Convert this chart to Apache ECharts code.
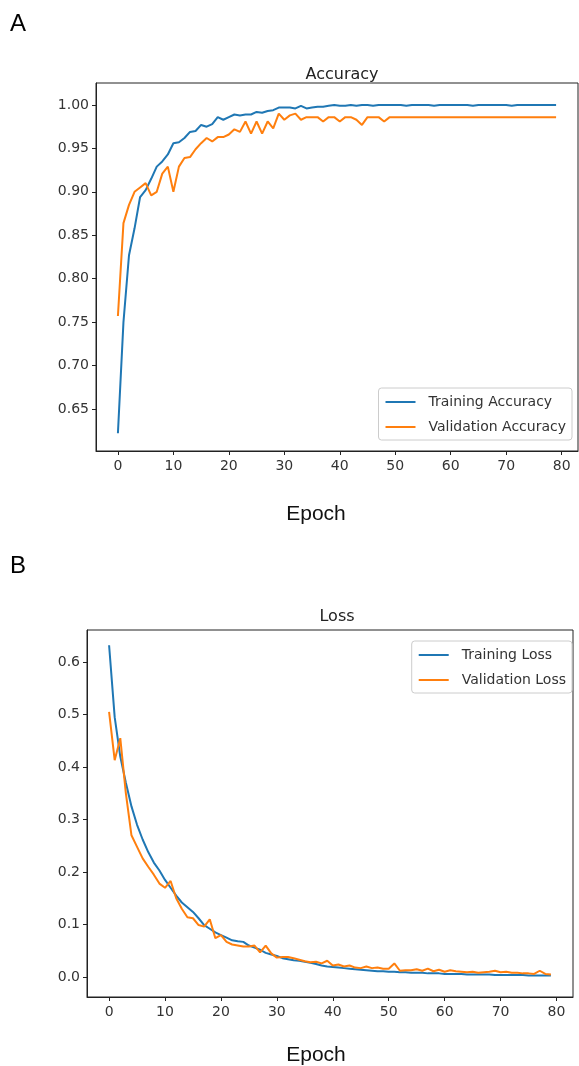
<!DOCTYPE html>
<html>
<head>
<meta charset="utf-8">
<script src="https://cdn.jsdelivr.net/npm/echarts@6/dist/echarts.min.js"></script>
<style>
html,body{margin:0;padding:0;background:#fff;}
#c{width:579px;height:1066px;}
</style>
</head>
<body>
<div id="c"></div>
<script>
const epochs = Array.from({length: 80}, (_, i) => i);
const xTicks = [0, 10, 20, 30, 40, 50, 60, 70, 80];
const accTicks = [0.65, 0.70, 0.75, 0.80, 0.85, 0.90, 0.95, 1.00];
const lossTicks = [0.0, 0.1, 0.2, 0.3, 0.4, 0.5, 0.6];

const trainAcc = [
  0.622, 0.750, 0.827, 0.858, 0.894, 0.902, 0.915, 0.929, 0.935, 0.943,
  0.956, 0.957, 0.962, 0.969, 0.970, 0.977, 0.975, 0.978, 0.986, 0.983,
  0.986, 0.989, 0.988, 0.989, 0.989, 0.992, 0.991, 0.993, 0.994, 0.997,
  0.997, 0.997, 0.996, 0.999, 0.996, 0.997, 0.998, 0.998, 0.999, 1.000,
  0.999, 0.999, 1.000, 0.999, 1.000, 1.000, 0.999, 1.000, 1.000, 1.000,
  1.000, 1.000, 0.999, 1.000, 1.000, 1.000, 1.000, 0.999, 1.000, 1.000,
  1.000, 1.000, 1.000, 1.000, 0.999, 1.000, 1.000, 1.000, 1.000, 1.000,
  1.000, 0.999, 1.000, 1.000, 1.000, 1.000, 1.000, 1.000, 1.000, 1.000
];
const valAcc = [
  0.757, 0.864, 0.885, 0.900, 0.905, 0.910, 0.896, 0.900, 0.921, 0.929,
  0.900, 0.929, 0.939, 0.940, 0.949, 0.956, 0.962, 0.958, 0.963, 0.963,
  0.966, 0.972, 0.969, 0.981, 0.967, 0.981, 0.967, 0.981, 0.973, 0.990,
  0.983, 0.988, 0.990, 0.983, 0.986, 0.986, 0.986, 0.981, 0.986, 0.986,
  0.981, 0.986, 0.986, 0.983, 0.977, 0.986, 0.986, 0.986, 0.981, 0.986,
  0.986, 0.986, 0.986, 0.986, 0.986, 0.986, 0.986, 0.986, 0.986, 0.986,
  0.986, 0.986, 0.986, 0.986, 0.986, 0.986, 0.986, 0.986, 0.986, 0.986,
  0.986, 0.986, 0.986, 0.986, 0.986, 0.986, 0.986, 0.986, 0.986, 0.986
];
const trainLoss = [
  0.632, 0.495, 0.420, 0.370, 0.325, 0.290, 0.262, 0.238, 0.218, 0.203,
  0.185, 0.170, 0.155, 0.142, 0.133, 0.124, 0.112, 0.099, 0.092, 0.085,
  0.080, 0.075, 0.070, 0.068, 0.067, 0.060, 0.056, 0.052, 0.046, 0.043,
  0.040, 0.036, 0.034, 0.032, 0.031, 0.029, 0.027, 0.025, 0.022, 0.020,
  0.019, 0.018, 0.017, 0.016, 0.015, 0.014, 0.013, 0.012, 0.011, 0.011,
  0.010, 0.010, 0.009, 0.009, 0.008, 0.008, 0.008, 0.007, 0.007, 0.007,
  0.006, 0.006, 0.006, 0.006, 0.005, 0.005, 0.005, 0.005, 0.005, 0.004,
  0.004, 0.004, 0.004, 0.004, 0.004, 0.003, 0.003, 0.003, 0.003, 0.003
];
const valLoss = [
  0.505, 0.413, 0.455, 0.350, 0.270, 0.248, 0.226, 0.210, 0.195, 0.178,
  0.170, 0.183, 0.150, 0.130, 0.114, 0.112, 0.099, 0.096, 0.110, 0.074,
  0.080, 0.067, 0.062, 0.060, 0.058, 0.058, 0.060, 0.047, 0.060, 0.045,
  0.037, 0.038, 0.038, 0.036, 0.033, 0.030, 0.028, 0.029, 0.026, 0.031,
  0.022, 0.024, 0.020, 0.022, 0.018, 0.017, 0.020, 0.017, 0.018, 0.016,
  0.016, 0.026, 0.012, 0.013, 0.013, 0.015, 0.012, 0.016, 0.011, 0.014,
  0.010, 0.013, 0.011, 0.010, 0.009, 0.010, 0.008, 0.009, 0.010, 0.012,
  0.009, 0.010, 0.008, 0.008, 0.007, 0.007, 0.006, 0.012, 0.006, 0.005
];

const BLUE = '#1f77b4', ORANGE = '#ff7f0e';
const tickFont = {fontFamily: 'DejaVu Sans', fontSize: 14, color: '#333'};
const axLine = {show: true, onZero: false, lineStyle: {color: '#222', width: 1}};

function xAxisCfg(gi) {
  return {
    type: 'value', gridIndex: gi, min: -3.95, max: 82.95,
    axisLine: axLine,
    axisTick: {show: true, length: 4, inside: false, customValues: xTicks, lineStyle: {color: '#222'}},
    axisLabel: {customValues: xTicks, margin: 8, ...tickFont},
    splitLine: {show: false}
  };
}
function legendCfg(names, top) {
  return {
    data: names, orient: 'vertical', right: 7, top: top,
    itemWidth: 30, itemHeight: 2, itemGap: 11, icon: 'rect',
    backgroundColor: '#fff', borderColor: '#ccc', borderWidth: 1, borderRadius: 3,
    padding: [7, 6, 6, 7],
    textStyle: {fontFamily: 'DejaVu Sans', fontSize: 14, color: '#333', padding: [0, 0, 0, 8]}
  };
}

const option = {
  animation: false,
  backgroundColor: '#fff',
  title: [
    {text: 'Accuracy', left: 337, top: 62, textAlign: 'center',
     textStyle: {fontFamily: 'DejaVu Sans', fontSize: 16, fontWeight: 'normal', color: '#222'}},
    {text: 'Loss', left: 332, top: 604, textAlign: 'center',
     textStyle: {fontFamily: 'DejaVu Sans', fontSize: 16, fontWeight: 'normal', color: '#222'}}
  ],
  graphic: [
    {type: 'text', left: 10, top: 12, style: {text: 'A', font: '24px "Liberation Sans"', fill: '#000'}},
    {type: 'text', left: 10, top: 554, style: {text: 'B', font: '24px "Liberation Sans"', fill: '#000'}},
    {type: 'text', x: 316, y: 514, style: {text: 'Epoch', font: '21px "Liberation Sans"', fill: '#111', align: 'center', verticalAlign: 'middle'}},
    {type: 'text', x: 316, y: 1055, style: {text: 'Epoch', font: '21px "Liberation Sans"', fill: '#111', align: 'center', verticalAlign: 'middle'}}
  ],
  grid: [
    {left: 96, top: 83, width: 482, height: 368, show: true, borderColor: '#222', borderWidth: 1},
    {left: 87, top: 630, width: 486, height: 367, show: true, borderColor: '#222', borderWidth: 1}
  ],
  legend: [
    legendCfg(['Training Accuracy', 'Validation Accuracy'], 388),
    legendCfg(['Training Loss', 'Validation Loss'], 641)
  ],
  xAxis: [xAxisCfg(0), xAxisCfg(1)],
  yAxis: [
    {type: 'value', gridIndex: 0, min: 0.6016, max: 1.0253,
     axisLine: axLine,
     axisTick: {show: true, length: 4, customValues: accTicks, lineStyle: {color: '#222'}},
     axisLabel: {customValues: accTicks, margin: 7, formatter: v => v.toFixed(2), ...tickFont},
     splitLine: {show: false}},
    {type: 'value', gridIndex: 1, min: -0.038, max: 0.661,
     axisLine: axLine,
     axisTick: {show: true, length: 4, customValues: lossTicks, lineStyle: {color: '#222'}},
     axisLabel: {customValues: lossTicks, margin: 7, formatter: v => v.toFixed(1), ...tickFont},
     splitLine: {show: false}}
  ],
  series: [
    {name: 'Training Accuracy', type: 'line', xAxisIndex: 0, yAxisIndex: 0, showSymbol: false,
     data: epochs.map((e, i) => [e, trainAcc[i]]), lineStyle: {color: BLUE, width: 2}, itemStyle: {color: BLUE}},
    {name: 'Validation Accuracy', type: 'line', xAxisIndex: 0, yAxisIndex: 0, showSymbol: false,
     data: epochs.map((e, i) => [e, valAcc[i]]), lineStyle: {color: ORANGE, width: 2}, itemStyle: {color: ORANGE}},
    {name: 'Training Loss', type: 'line', xAxisIndex: 1, yAxisIndex: 1, showSymbol: false,
     data: epochs.map((e, i) => [e, trainLoss[i]]), lineStyle: {color: BLUE, width: 2}, itemStyle: {color: BLUE}},
    {name: 'Validation Loss', type: 'line', xAxisIndex: 1, yAxisIndex: 1, showSymbol: false,
     data: epochs.map((e, i) => [e, valLoss[i]]), lineStyle: {color: ORANGE, width: 2}, itemStyle: {color: ORANGE}}
  ]
};
const chart = echarts.init(document.getElementById('c'), null, {renderer: 'canvas'});
chart.setOption(option);
</script>
</body>
</html>
